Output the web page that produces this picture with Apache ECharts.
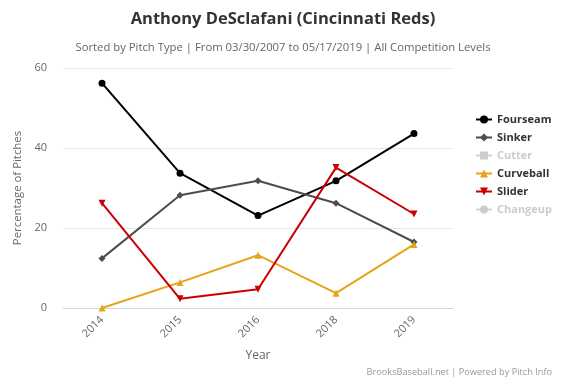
<!DOCTYPE html>
<html><head><meta charset="utf-8">
<script src="https://cdn.jsdelivr.net/npm/echarts@6/dist/echarts.min.js"></script>
<style>html,body{margin:0;padding:0;background:#fff}#c{width:566px;height:377px}</style>
</head><body><div id="c"></div>
<script>
const years = ['2014','2015','2016','2018','2019'];
const fourseam = [56.2, 33.7, 23.1, 31.8, 43.6];
const sinker = [12.4, 28.2, 31.8, 26.2, 16.5];
const cutter = [];
const curveball = [0, 6.4, 13.2, 3.7, 15.9];
const slider = [26.2, 2.3, 4.7, 35.1, 23.5];
const changeup = [];
const yTicks = [0, 20, 40, 60];

const FONT = 'Open Sans';
function s(name, data, color, symbol, size) {
  return {name, type:'line', data, color, symbol, symbolSize:size,
    lineStyle:{width:2, color}, itemStyle:{color}, emphasis:{disabled:true}};
}
const chart = echarts.init(document.getElementById('c'), null, {renderer:'canvas'});
chart.setOption({
  animation:false,
  textStyle:{fontFamily:FONT},
  title:[
    {text:'Anthony DeSclafani (Cincinnati Reds)', left:'center', top:6,
     textStyle:{fontFamily:FONT, fontSize:16.5, fontWeight:'bold', color:'#333'}},
    {text:'Sorted by Pitch Type | From 03/30/2007 to 05/17/2019 | All Competition Levels', left:'center', top:37,
     textStyle:{fontFamily:FONT, fontSize:11.3, fontWeight:'normal', color:'#666'}},
    {text:'BrooksBaseball.net | Powered by Pitch Info', right:9, top:363,
     textStyle:{fontFamily:FONT, fontSize:9.2, fontWeight:'normal', color:'#999'}}
  ],
  legend:{orient:'vertical', left:470, top:109, itemGap:7, itemWidth:16, itemHeight:10,
    textStyle:{fontFamily:FONT, fontSize:11, fontWeight:'bold', color:'#333'},
    inactiveColor:'#ccc',
    data:['Fourseam','Sinker','Cutter','Curveball','Slider','Changeup'],
    selected:{Cutter:false, Changeup:false}},
  grid:{left:63, width:390, top:68, height:240},
  xAxis:{type:'category', data:years, boundaryGap:true,
    name:'Year', nameLocation:'middle', nameGap:42,
    nameTextStyle:{fontFamily:FONT, fontSize:12, color:'#666'},
    axisLine:{lineStyle:{color:'#ccd6eb'}}, axisTick:{show:false},
    axisLabel:{rotate:45, color:'#666', fontSize:11, fontFamily:FONT, margin:10}},
  yAxis:{type:'value', min:0, max:60, interval:20,
    name:'Percentage of Pitches', nameLocation:'middle', nameGap:37,
    nameTextStyle:{fontFamily:FONT, fontSize:11.4, color:'#666'},
    axisLine:{show:false}, axisTick:{show:false},
    splitLine:{lineStyle:{color:'#e6e6e6'}},
    axisLabel:{color:'#666', fontSize:11, fontFamily:FONT, margin:16,
      formatter:v => yTicks.includes(v) ? String(v) : ''}},
  series:[
    s('Fourseam', fourseam, '#000000', 'circle', 7),
    s('Sinker', sinker, '#4d4d4d', 'diamond', 7),
    s('Cutter', cutter, '#999999', 'rect', 7),
    s('Curveball', curveball, '#e8a317', 'triangle', 7),
    s('Slider', slider, '#cc0000', 'path://M0,0 L10,0 L5,10 Z', 7),
    s('Changeup', changeup, '#aaaaaa', 'circle', 7)
  ]
});
</script></body></html>
